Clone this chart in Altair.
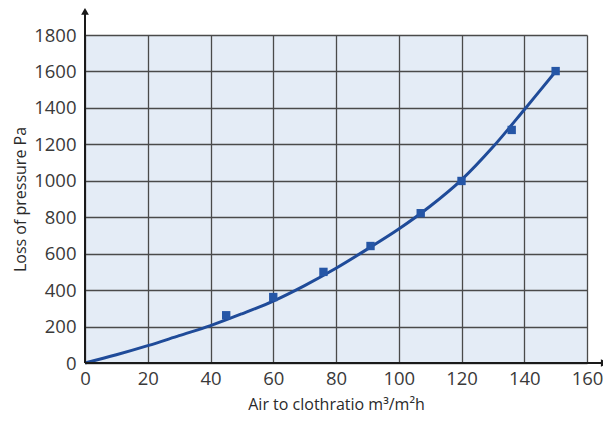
import altair as alt
import pandas as pd

# measured points
pt_x = [45, 60, 76, 91, 107, 120, 136, 150]
pt_y = [262, 362, 500, 642, 822, 999, 1279, 1602]

# fitted curve
cv_x = [0, 10, 20, 30, 40, 50, 60, 70, 80, 90, 100, 110, 120, 130, 140, 150]
cv_y = [0, 45, 95, 150, 205, 270, 340, 425, 520, 625, 735, 860, 1005, 1185, 1390, 1600]

x_ticks = [0, 20, 40, 60, 80, 100, 120, 140, 160]
y_ticks = [0, 200, 400, 600, 800, 1000, 1200, 1400, 1600, 1800]

FONT = "Open Sans"
pts = pd.DataFrame({"x": pt_x, "y": pt_y})
cv = pd.DataFrame({"x": cv_x, "y": cv_y})

xs = alt.Scale(domain=[0, 160], nice=False, zero=True)
ys = alt.Scale(domain=[0, 1800], nice=False, zero=True)

common = dict(grid=True, gridColor="#4a4a4a", gridWidth=1.3, gridOpacity=1,
              ticks=False, domain=False, labelFont=FONT, labelFontSize=18.5, labelColor="#3a3a3a",
              labelOverlap=False, labelFlush=False, format="d",
              titleFont=FONT, titleFontSize=16, titleFontWeight="normal", titleColor="#2a2a2a")
xax = alt.Axis(values=x_ticks, labelPadding=6, title="Air to clothratio m³/m²h",
               titlePadding=9, **common)
yax = alt.Axis(values=y_ticks, labelPadding=9, title="Loss of pressure Pa",
               titlePadding=5, **common)

base_line = alt.Chart(cv).mark_line(color="#1f4b99", strokeWidth=3, interpolate="catmull-rom").encode(
    x=alt.X("x:Q", scale=xs, axis=xax),
    y=alt.Y("y:Q", scale=ys, axis=yax),
)

points = alt.Chart(pts).mark_square(color="#2556a6", size=70, opacity=1).encode(
    x=alt.X("x:Q", scale=xs, axis=xax), y=alt.Y("y:Q", scale=ys, axis=yax)
)

# axis lines with arrows
ax_df = pd.DataFrame({"x": [0, 0], "y": [0, 0], "x1": [165.5, 0], "y1": [0, 1930]})
axes = alt.Chart(ax_df).mark_rule(color="#1a1a1a", strokeWidth=2, clip=False).encode(
    x=alt.X("x:Q", scale=xs, axis=xax), y=alt.Y("y:Q", scale=ys, axis=yax),
    x2="x1:Q", y2="y1:Q",
)
arr_df = pd.DataFrame({"x": [165.5, 0], "y": [0, 1930], "s": ["triangle-right", "triangle-up"]})
arrows = alt.Chart(arr_df).mark_point(filled=True, color="#1a1a1a", size=60, opacity=1, clip=False).encode(
    x=alt.X("x:Q", scale=xs, axis=xax), y=alt.Y("y:Q", scale=ys, axis=yax),
    shape=alt.Shape("s:N", scale=None, legend=None),
)

chart = (base_line + points + axes + arrows).properties(
    width=502, height=328,
    autosize=alt.AutoSizeParams(type="none"),
    padding={"left": 77, "top": 27, "right": 16, "bottom": 51},
).configure(background="white").configure_view(fill="#e4ecf6", strokeWidth=0)

chart.save("out.html", embed_options={"renderer": "svg", "actions": False})
